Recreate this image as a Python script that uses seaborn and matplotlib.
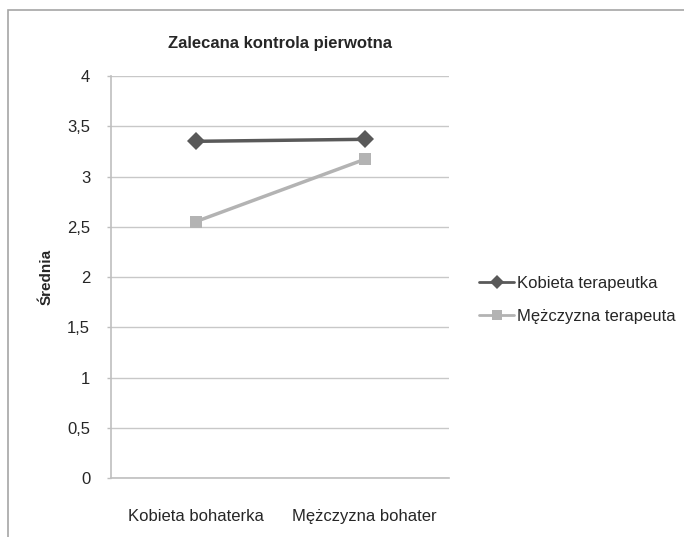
import pandas as pd
import seaborn as sns
import matplotlib.pyplot as plt
from matplotlib.patches import Rectangle

bohater = ["Kobieta bohaterka", "Mężczyzna bohater"]
kobieta_terapeutka = [3.35, 3.37]
mezczyzna_terapeuta = [2.55, 3.17]
serie = ["Kobieta terapeutka", "Mężczyzna terapeuta"]

df = pd.DataFrame({
    "bohater": bohater * 2,
    "srednia": kobieta_terapeutka + mezczyzna_terapeuta,
    "terapeuta": [serie[0]] * 2 + [serie[1]] * 2,
})

sns.set_style("white")
plt.rcParams['font.family'] = ['Liberation Sans', 'DejaVu Sans']

fig = plt.figure(figsize=(6.84, 5.37), dpi=100)
fig.patches.append(Rectangle((8 / 684, -0.1), 1.2, 1 - 10 / 537 + 0.1,
                             transform=fig.transFigure, fill=False,
                             edgecolor="#a6a6a6", linewidth=1.2, zorder=0))
ax = fig.add_axes([111 / 684, 59 / 537, 338 / 684, 402 / 537])

sns.lineplot(data=df, x="bohater", y="srednia", hue="terapeuta", style="terapeuta",
             palette={serie[0]: "#595959", serie[1]: "#b3b3b3"},
             markers={serie[0]: "D", serie[1]: "s"}, dashes=False,
             markersize=9, linewidth=2.5, markeredgewidth=0, ax=ax)

ax.set_xlim(-0.5, 1.5)
ax.set_ylim(0, 4)
ax.set_yticks([0, 0.5, 1, 1.5, 2, 2.5, 3, 3.5, 4])
ax.set_yticklabels(["0", "0,5", "1", "1,5", "2", "2,5", "3", "3,5", "4"], fontsize=12)
ax.tick_params(axis="x", labelsize=12, length=0, pad=22)
ax.tick_params(axis="y", length=3, color="#bfbfbf", width=1, pad=12, left=True)
ax.grid(axis="y", color="#c8c8c8", linewidth=1)
ax.set_axisbelow(True)
for s in ["top", "right"]:
    ax.spines[s].set_visible(False)
for s in ["left", "bottom"]:
    ax.spines[s].set_color("#bfbfbf")
    ax.spines[s].set_linewidth(1.2)

ax.set_xlabel("")
ax.set_ylabel("Średnia", fontsize=11, fontweight="bold", labelpad=10)
ax.set_title("Zalecana kontrola pierwotna", fontsize=12, fontweight="bold", pad=20)

leg = ax.legend(title=None, frameon=False, fontsize=12, loc="center left",
                bbox_to_anchor=(1.09, 0.443), handlelength=2.1, handletextpad=0.15,
                labelspacing=1.1, borderaxespad=0, borderpad=0)
for h in leg.legend_handles:
    h.set_linewidth(2)
    h.set_markersize(7)

fig.savefig("out.png", dpi=100)
